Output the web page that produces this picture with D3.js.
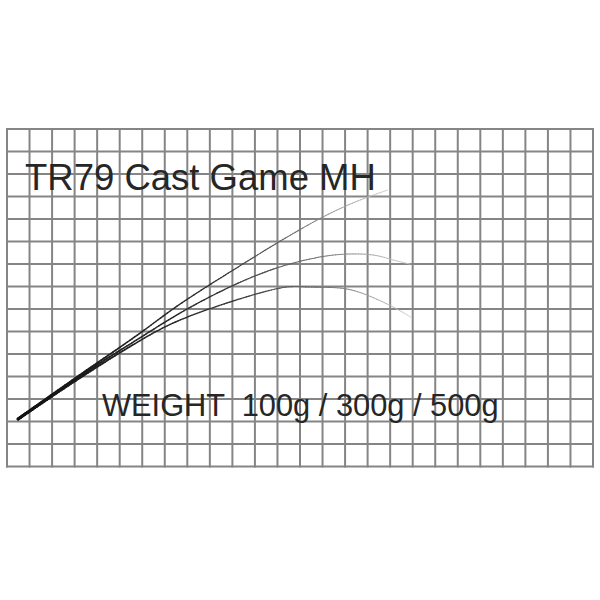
<!DOCTYPE html>
<html>
<head>
<meta charset="utf-8">
<script src="https://cdn.jsdelivr.net/npm/d3@7"></script>
<style>
  html, body { margin: 0; padding: 0; background: #fff; }
  svg { display: block; }
</style>
</head>
<body>
<script>
// rod bend curves, in grid squares (x from left edge, y from bottom edge)
const cols = 26;
const rows = 15;
const title = 'TR79 Cast Game MH';
const weightLabel = 'WEIGHT  100g / 300g / 500g';

const bend100x = [0.49, 2.35, 4.13, 6.03, 7.68, 9.89, 11.98, 14.02, 15.66, 16.90];
const bend100y = [2.11, 3.44, 4.69, 6.02, 7.22, 8.64, 9.93, 11.09, 11.84, 12.29];
const bend300x = [0.49, 2.35, 4.13, 6.03, 7.68, 9.89, 12.11, 13.89, 15.08, 16.24, 17.13, 17.88];
const bend300y = [2.11, 3.40, 4.60, 5.80, 6.82, 7.98, 8.87, 9.31, 9.44, 9.40, 9.18, 9.00];
const bend500x = [0.49, 2.35, 4.13, 6.03, 7.68, 9.89, 12.11, 13.31, 14.78, 15.97, 17.13, 17.97];
const bend500y = [2.11, 3.36, 4.51, 5.67, 6.51, 7.31, 7.93, 7.98, 7.93, 7.62, 7.09, 6.60];

const W = 600, H = 600;
const svg = d3.select('body').append('svg')
    .attr('width', W)
    .attr('height', H);

const x = d3.scaleLinear().domain([0, cols]).range([7, 593]);
const y = d3.scaleLinear().domain([0, rows]).range([466.5, 129]);

// grid
const grid = svg.append('g')
    .attr('stroke', '#858585')
    .attr('stroke-width', 2);
grid.selectAll('line.v')
    .data(d3.range(cols + 1))
    .enter().append('line')
    .attr('class', 'v')
    .attr('x1', d => x(d)).attr('x2', d => x(d))
    .attr('y1', y(0) + 1).attr('y2', y(rows) - 1);
grid.selectAll('line.h')
    .data(d3.range(rows + 1))
    .enter().append('line')
    .attr('class', 'h')
    .attr('y1', d => y(d)).attr('y2', d => y(d))
    .attr('x1', x(0) - 1).attr('x2', x(cols) + 1);

// curves: drawn as many small pieces so they taper and fade toward the tip
const line = d3.line()
    .x(d => x(d[0]))
    .y(d => y(d[1]))
    .curve(d3.curveNatural);

const curves = [
  d3.zip(bend100x, bend100y),
  d3.zip(bend300x, bend300y),
  d3.zip(bend500x, bend500y)
];

const width = d3.scaleLinear().domain([0, 0.3, 1]).range([2.8, 1.5, 0.8]);
const shade = d3.scaleLinear().domain([0, 0.55, 0.8, 1])
    .range(['#111', '#333', '#7a7a7a', '#cfcfcf']);

const tmp = svg.append('path').attr('fill', 'none').attr('stroke', 'none');
const rods = svg.append('g').attr('fill', 'none').attr('stroke-linecap', 'round');

curves.forEach(pts => {
  tmp.attr('d', line(pts));
  const node = tmp.node();
  const len = node.getTotalLength();
  const n = 150;
  const samples = d3.range(n + 1).map(i => node.getPointAtLength(len * i / n));
  for (let i = 0; i < n; i++) {
    const t = i / n;
    rods.append('line')
        .attr('x1', samples[i].x).attr('y1', samples[i].y)
        .attr('x2', samples[i + 1].x).attr('y2', samples[i + 1].y)
        .attr('stroke', shade(t))
        .attr('stroke-width', width(t));
  }
});
tmp.remove();

// texts
svg.append('text')
    .attr('x', 25)
    .attr('y', 190)
    .attr('font-family', 'Liberation Sans, Arial, sans-serif')
    .attr('font-size', 36.5)
    .attr('fill', '#262626')
    .text(title);

svg.append('text')
    .attr('x', 102)
    .attr('y', 416)
    .attr('font-family', 'Liberation Sans, Arial, sans-serif')
    .attr('font-size', 30.8)
    .attr('fill', '#262626')
    .style('white-space', 'pre')
    .text(weightLabel);
</script>
</body>
</html>
